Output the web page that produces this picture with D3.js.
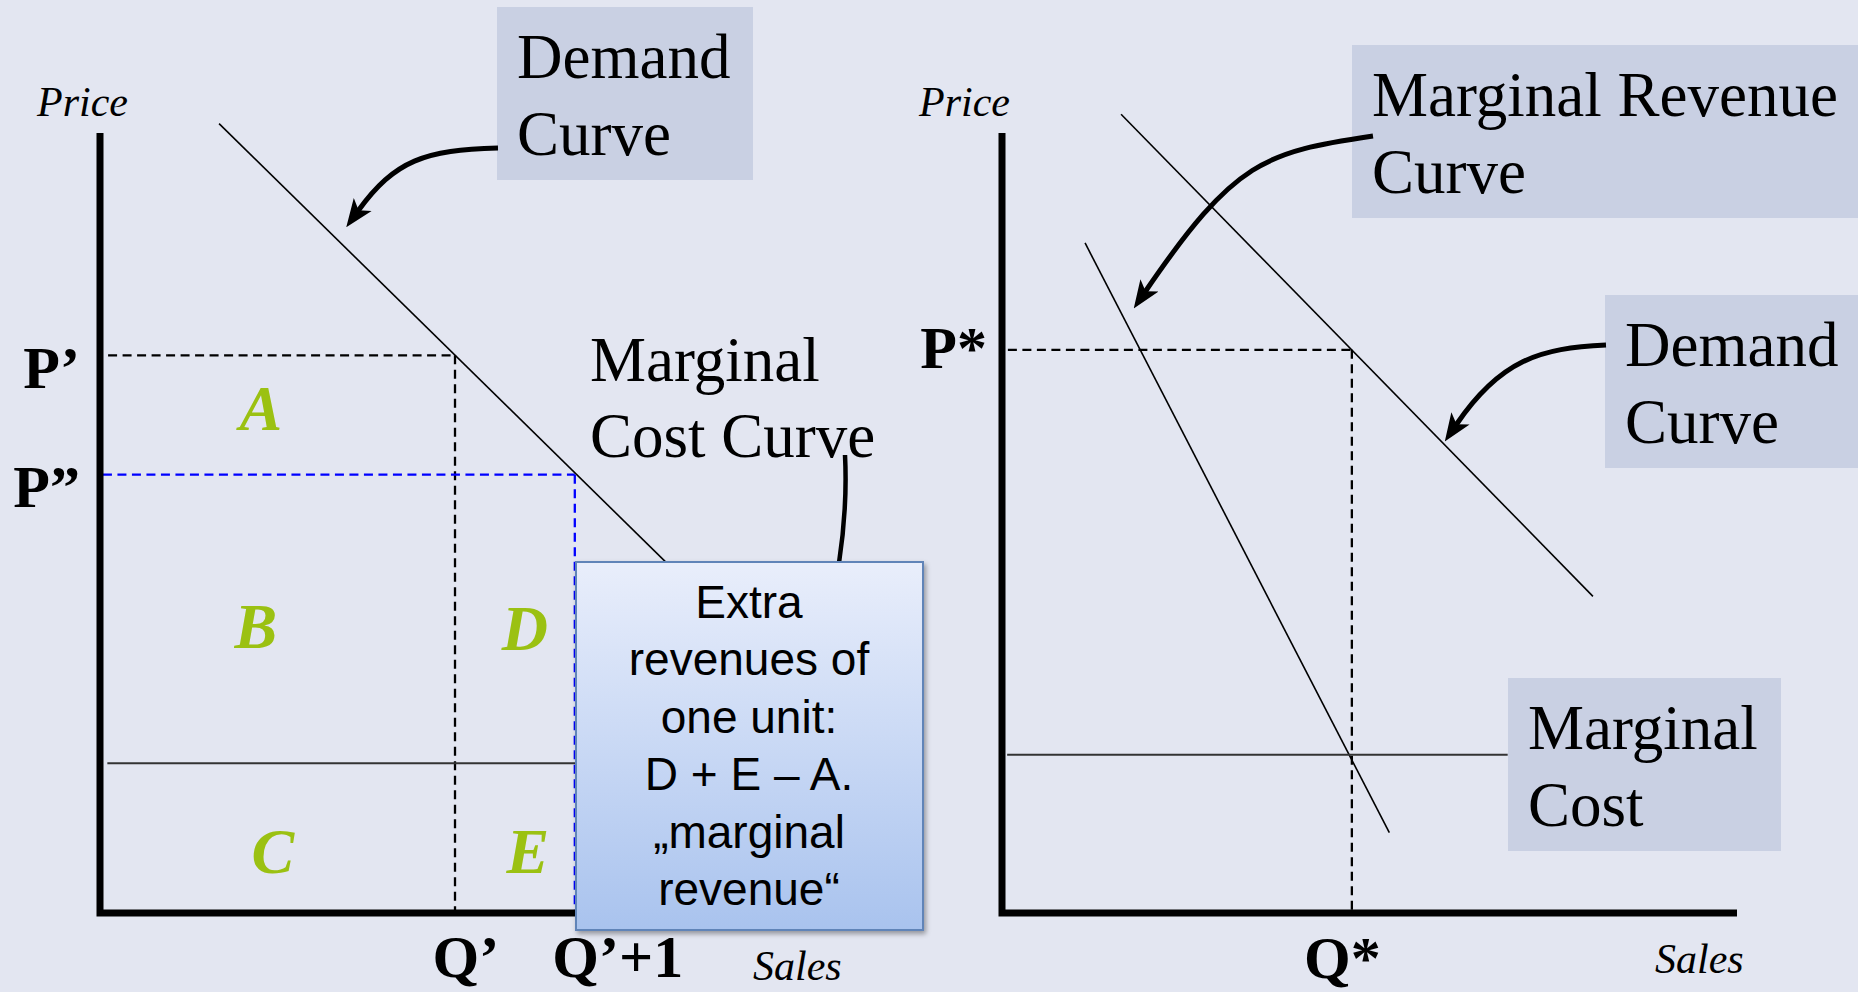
<!DOCTYPE html>
<html>
<head>
<meta charset="utf-8">
<script src="https://cdn.jsdelivr.net/npm/d3@7"></script>
<style>
  html, body { margin: 0; padding: 0; background: #e3e6f1; }
  svg { display: block; }
</style>
</head>
<body>
<svg id="chart" width="1858" height="992"></svg>
<script>
// ---- data (price / sales units, 0-100 on both axes) ----
// left panel: selling one more unit
const leftDemand = [[16.2, 101.2], [80, 42.2]];
const leftMC = [[1.0, 19.2], [70, 19.2]];
const leftPrices = [71.5, 56.2];
const leftPriceLabels = ['P’', 'P”'];
const leftQty = [48.3, 64.6];
const leftQtyLabels = ['Q’', 'Q’+1'];
const areaLetters = ['A', 'B', 'C', 'D', 'E'];
const areaX = [21.9, 21.2, 23.5, 57.8, 58.2];
const areaY = [61.9, 34.0, 5.1, 33.7, 5.1];

// right panel: profit maximum MR = MC
const rightDemand = [[16.2, 102.4], [80.4, 40.6]];
const rightMR = [[11.3, 85.9], [52.7, 10.3]];
const rightMC = [[0.7, 20.3], [68.8, 20.3]];
const rightPrices = [72.2];
const rightPriceLabels = ['P*'];
const rightQty = [47.6];
const rightQtyLabels = ['Q*'];

const extraText = ['Extra', 'revenues of', 'one unit:', 'D + E – A.', '„marginal', 'revenue“'];

// ---- setup ----
const svg = d3.select('#chart');
const width = 1858, height = 992;
const serif = '"Liberation Serif", "Times New Roman", Times, serif';
const sans = '"Liberation Sans", Arial, Helvetica, sans-serif';

svg.append('rect').attr('width', width).attr('height', height).attr('fill', '#e3e6f1');

const xL = d3.scaleLinear().domain([0, 100]).range([100, 835]);
const xR = d3.scaleLinear().domain([0, 100]).range([1002, 1737]);
const y = d3.scaleLinear().domain([0, 100]).range([913, 133]);

const defs = svg.append('defs');
const grad = defs.append('linearGradient').attr('id', 'boxGrad')
    .attr('x1', 0).attr('y1', 0).attr('x2', 0).attr('y2', 1);
grad.append('stop').attr('offset', '0%').attr('stop-color', '#e9eefb');
grad.append('stop').attr('offset', '100%').attr('stop-color', '#a9c3ee');
defs.append('filter').attr('id', 'shadow')
    .attr('x', '-10%').attr('y', '-10%').attr('width', '125%').attr('height', '125%')
    .append('feDropShadow')
    .attr('dx', 2).attr('dy', 3).attr('stdDeviation', 2.5)
    .attr('flood-color', '#000').attr('flood-opacity', 0.35);
defs.append('marker').attr('id', 'head')
    .attr('viewBox', '0 -12 28 24').attr('refX', 8).attr('refY', 0)
    .attr('markerWidth', 28).attr('markerHeight', 24)
    .attr('markerUnits', 'userSpaceOnUse').attr('orient', 'auto')
    .append('path').attr('d', 'M0,-11L28,0L0,11L7,0Z').attr('fill', '#000');

const lineOf = xs => d3.line().x(d => xs(d[0])).y(d => y(d[1]));

// ---- one panel ----
function panel(xs, o) {
    const g = svg.append('g');
    const ln = lineOf(xs);

    // dashed guides
    o.prices.forEach((p, i) => {
        const q = o.qty[i];
        const col = i === 1 ? '#0000ff' : '#000';
        g.append('path')
            .attr('d', ln([[o.dashStart[i], p], [q, p]]))
            .attr('stroke', col).attr('stroke-width', 2.3).attr('stroke-dasharray', '9,5.5').attr('fill', 'none');
        g.append('path')
            .attr('d', ln([[q, p], [q, 0]]))
            .attr('stroke', col).attr('stroke-width', 2.3).attr('stroke-dasharray', '9,5.5').attr('fill', 'none');
    });

    // curves
    o.curves.forEach(c => {
        g.append('path').attr('d', ln(c)).attr('stroke', '#000').attr('stroke-width', 1.6).attr('fill', 'none');
    });
    g.append('path').attr('d', ln(o.mc)).attr('stroke', '#333').attr('stroke-width', 2).attr('fill', 'none');

    // axes lines
    g.append('path')
        .attr('d', `M${xs(0)},${y(100)}V${y(0)}H${xs(100)}`)
        .attr('stroke', '#000').attr('stroke-width', 7).attr('fill', 'none')
        .attr('stroke-linejoin', 'miter');

    // tick labels
    const ay = g.append('g').attr('transform', `translate(${xs(0)},0)`)
        .call(d3.axisLeft(y).tickValues(o.prices).tickFormat((d, i) => o.priceLabels[i])
            .tickSize(0).tickPadding(o.yPad));
    ay.select('.domain').remove();
    ay.selectAll('text').attr('dy', o.yDy)
        .attr('font-family', serif).attr('font-weight', 'bold').attr('font-size', 60).attr('fill', '#000');

    const ax = g.append('g').attr('transform', `translate(0,${y(0)})`)
        .call(d3.axisBottom(xs).tickValues(o.qty).tickFormat((d, i) => o.qtyLabels[i]).tickSize(0));
    ax.select('.domain').remove();
    ax.selectAll('text').attr('y', o.xDy).attr('dy', null)
        .attr('text-anchor', o.xAnchor).attr('dx', o.xDx)
        .attr('font-family', serif).attr('font-weight', 'bold').attr('font-size', 60).attr('fill', '#000');

    // axis titles
    g.append('text').attr('x', o.priceX).attr('y', 116).text('Price')
        .attr('font-family', serif).attr('font-style', 'italic').attr('font-size', 42);
    g.append('text').attr('x', o.salesX).attr('y', o.salesY).text('Sales')
        .attr('font-family', serif).attr('font-style', 'italic').attr('font-size', 42);
    return g;
}

panel(xL, {
    prices: leftPrices, priceLabels: leftPriceLabels, qty: leftQty, qtyLabels: leftQtyLabels,
    dashStart: [1.1, 0.4], curves: [leftDemand], mc: leftMC,
    yPad: 20, yDy: 32, xDy: 64, xAnchor: 'start', xDx: -23,
    priceX: 37, salesX: 753, salesY: 980
});

panel(xR, {
    prices: rightPrices, priceLabels: rightPriceLabels, qty: rightQty, qtyLabels: rightQtyLabels,
    dashStart: [0.8], curves: [rightDemand, rightMR], mc: rightMC,
    yPad: 15, yDy: 18, xDy: 65, xAnchor: 'middle', xDx: -10,
    priceX: 919, salesX: 1655, salesY: 973
});

// area letters
svg.append('g').selectAll('text')
    .data(areaLetters)
    .join('text')
    .attr('x', (d, i) => xL(areaX[i]))
    .attr('y', (d, i) => y(areaY[i]))
    .attr('text-anchor', 'middle')
    .attr('font-family', serif).attr('font-weight', 'bold').attr('font-style', 'italic')
    .attr('font-size', 64).attr('fill', '#9bc112')
    .text(d => d);

// "Marginal Cost Curve" label with its pointer
const mcl = svg.append('text').attr('font-family', serif).attr('font-size', 63);
mcl.append('tspan').attr('x', 590).attr('y', 381).text('Marginal');
mcl.append('tspan').attr('x', 590).attr('y', 457).text('Cost Curve');
svg.append('path').attr('d', 'M845,455C847,495 844,530 839,563')
    .attr('stroke', '#000').attr('stroke-width', 4.5).attr('fill', 'none');

// extra revenue box
svg.append('rect').attr('x', 576).attr('y', 562).attr('width', 347).attr('height', 368)
    .attr('fill', 'url(#boxGrad)').attr('stroke', '#6084b8').attr('stroke-width', 2)
    .attr('filter', 'url(#shadow)');
svg.append('g').selectAll('text')
    .data(extraText)
    .join('text')
    .attr('x', 749)
    .attr('y', (d, i) => 618 + i * 57.4)
    .attr('text-anchor', 'middle')
    .attr('font-family', sans).attr('font-size', 46).attr('fill', '#000')
    .text(d => d);

// grey label boxes
const boxes = [
    {x: 497, y: 7, w: 256, h: 173, lines: ['Demand', 'Curve']},
    {x: 1352, y: 45, w: 506, h: 173, lines: ['Marginal Revenue', 'Curve']},
    {x: 1605, y: 295, w: 253, h: 173, lines: ['Demand', 'Curve']},
    {x: 1508, y: 678, w: 273, h: 173, lines: ['Marginal', 'Cost']}
];
boxes.forEach(b => {
    svg.append('rect').attr('x', b.x).attr('y', b.y).attr('width', b.w).attr('height', b.h)
        .attr('fill', '#c9d0e3');
    const t = svg.append('text').attr('font-family', serif).attr('font-size', 63).attr('fill', '#000');
    b.lines.forEach((s, i) => {
        t.append('tspan').attr('x', b.x + 20).attr('y', b.y + 71 + i * 77).text(s);
    });
});

// curved pointer arrows
const arrows = [
    'M498,148C425,150 395,160 358,211',
    'M1373,136C1265,152 1235,160 1145,292',
    'M1606,345C1540,348 1500,360 1456,425'
];
svg.append('g').selectAll('path')
    .data(arrows)
    .join('path')
    .attr('d', d => d)
    .attr('stroke', '#000').attr('stroke-width', 5).attr('fill', 'none')
    .attr('marker-end', 'url(#head)');
</script>
</body>
</html>
